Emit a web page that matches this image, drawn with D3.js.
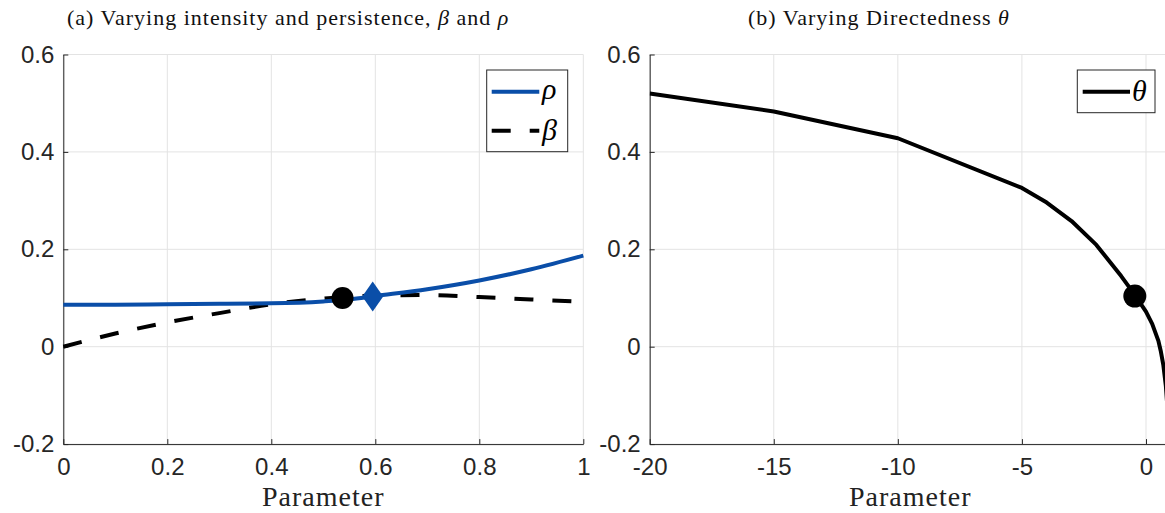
<!DOCTYPE html>
<html>
<head>
<meta charset="utf-8">
<script src="https://cdn.jsdelivr.net/npm/d3@7"></script>
<style>
  body { margin: 0; background: #fff; }
  .tick text { font-family: "Liberation Sans", Arial, sans-serif; font-size: 24px; fill: #262626; }
  .domain { stroke: #262626; }
  .tick line { stroke: #262626; }
</style>
</head>
<body>
<div id="chart"></div>
<script>
// panel (a): rho and beta curves
const rhoX = [0, 0.1, 0.2, 0.3, 0.4, 0.5, 0.55, 0.6, 0.7, 0.8, 0.9, 1.0];
const rhoY = [0.086, 0.086, 0.087, 0.088, 0.089, 0.093, 0.097, 0.104, 0.118, 0.136, 0.159, 0.187];
const betaX = [0, 0.05, 0.1, 0.2, 0.3, 0.4, 0.5, 0.55, 0.6, 0.7, 0.8, 0.9, 1.0];
const betaY = [0, 0.014, 0.027, 0.05, 0.069, 0.087, 0.099, 0.103, 0.105, 0.106, 0.102, 0.097, 0.092];
const markA = { circle: [0.537, 0.1], diamond: [0.595, 0.103] };

// panel (b): theta curve
const thetaX = [-20, -15, -10, -5, -4, -3, -2, -1, -0.5, 0, 0.25, 0.5, 0.6, 0.7, 0.8, 0.9, 1.0];
const thetaY = [0.52, 0.483, 0.428, 0.326, 0.296, 0.258, 0.209, 0.145, 0.11, 0.072, 0.047, 0.012, -0.01, -0.038, -0.08, -0.15, -0.25];
const markB = [-0.45, 0.104];

const yTicks = [-0.2, 0, 0.2, 0.4, 0.6];
const xTicksA = [0, 0.2, 0.4, 0.6, 0.8, 1];
const xTicksB = [-20, -15, -10, -5, 0];

const W = 1165, H = 513;
const plotTop = 54.5, plotBottom = 444.1;
const blue = "#0a4ea8";

const svg = d3.select("#chart").append("svg")
  .attr("width", W).attr("height", H);

const yScale = d3.scaleLinear().domain([-0.2, 0.6]).range([plotBottom, plotTop]);

function panel(id, x0, x1, domain, xTicks, title, titleX) {
  const xScale = d3.scaleLinear().domain(domain).range([x0, x1]);
  const g = svg.append("g");

  // grid
  g.selectAll(".vgrid").data(xTicks).enter().append("line")
    .attr("x1", d => xScale(d)).attr("x2", d => xScale(d))
    .attr("y1", plotTop).attr("y2", plotBottom)
    .attr("stroke", "#e3e3e3").attr("stroke-width", 1);
  g.selectAll(".hgrid").data(yTicks).enter().append("line")
    .attr("x1", x0).attr("x2", x1)
    .attr("y1", d => yScale(d)).attr("y2", d => yScale(d))
    .attr("stroke", "#e3e3e3").attr("stroke-width", 1);

  const xAxis = d3.axisBottom(xScale).tickValues(xTicks)
    .tickSize(-5).tickSizeOuter(0).tickPadding(14)
    .tickFormat(d => String(d));
  const yAxis = d3.axisLeft(yScale).tickValues(yTicks)
    .tickSize(-5).tickSizeOuter(0).tickPadding(9)
    .tickFormat(d => String(d));

  g.append("g").attr("transform", `translate(0,${plotBottom})`).call(xAxis);
  g.append("g").attr("transform", `translate(${x0},0)`).call(yAxis);

  g.append("text")
    .attr("x", titleX).attr("y", 25)
    .attr("font-family", "Liberation Serif, serif").attr("font-size", 22)
    .attr("letter-spacing", 1)
    .attr("fill", "#111")
    .html(title);

  g.append("text")
    .attr("x", (x0 + x1) / 2).attr("y", 506)
    .attr("text-anchor", "middle")
    .attr("font-family", "Liberation Serif, serif").attr("font-size", 28)
    .attr("letter-spacing", 1)
    .attr("fill", "#222")
    .text("Parameter");

  const clipId = "clip" + id;
  svg.append("clipPath").attr("id", clipId).append("rect")
    .attr("x", x0).attr("y", plotTop - 3).attr("width", x1 - x0).attr("height", plotBottom - plotTop + 3);

  return { g, xScale, clipId };
}

// ---------- panel (a)
const a = panel("a", 63.3, 583.3, [0, 1], xTicksA,
  '(a) Varying intensity and persistence, <tspan font-style="italic">β</tspan> and <tspan font-style="italic">ρ</tspan>', 67);

const lineA = d3.line().x(d => a.xScale(d[0])).y(d => yScale(d[1])).curve(d3.curveMonotoneX);

a.g.append("path")
  .datum(d3.zip(betaX, betaY))
  .attr("d", lineA)
  .attr("fill", "none").attr("stroke", "#000").attr("stroke-width", 4)
  .attr("stroke-dasharray", "19,19");

a.g.append("path")
  .datum(d3.zip(rhoX, rhoY))
  .attr("d", lineA)
  .attr("fill", "none").attr("stroke", blue).attr("stroke-width", 4);

a.g.append("circle")
  .attr("cx", a.xScale(markA.circle[0])).attr("cy", yScale(markA.circle[1]))
  .attr("r", 11).attr("fill", "#000");

a.g.append("path")
  .attr("transform", `translate(${a.xScale(markA.diamond[0])},${yScale(markA.diamond[1])})`)
  .attr("d", "M0,-15L10.5,0L0,15L-10.5,0Z")
  .attr("fill", blue);

// legend (a)
const legA = a.g.append("g");
legA.append("rect").attr("x", 486.7).attr("y", 70).attr("width", 81).attr("height", 81.7)
  .attr("fill", "#fff").attr("stroke", "#262626").attr("stroke-width", 1);
legA.append("line").attr("x1", 491.7).attr("x2", 539.3).attr("y1", 91.7).attr("y2", 91.7)
  .attr("stroke", blue).attr("stroke-width", 4);
legA.append("line").attr("x1", 491.7).attr("x2", 539.3).attr("y1", 130.7).attr("y2", 130.7)
  .attr("stroke", "#000").attr("stroke-width", 4).attr("stroke-dasharray", "19,19");
legA.append("text").attr("x", 542).attr("y", 99).text("ρ")
  .attr("font-family", "Liberation Serif, serif").attr("font-style", "italic").attr("font-size", 30);
legA.append("text").attr("x", 542).attr("y", 140).text("β")
  .attr("font-family", "Liberation Serif, serif").attr("font-style", "italic").attr("font-size", 30);

// ---------- panel (b)
const b = panel("b", 649.7, 1170.8, [-20, 1], xTicksB,
  '(b) Varying Directedness <tspan font-style="italic">θ</tspan>', 748);

const lineB = d3.line().x(d => b.xScale(d[0])).y(d => yScale(d[1]));

b.g.append("path")
  .datum(d3.zip(thetaX, thetaY))
  .attr("d", lineB)
  .attr("clip-path", `url(#${b.clipId})`)
  .attr("fill", "none").attr("stroke", "#000").attr("stroke-width", 4)
  .attr("stroke-linejoin", "round");

b.g.append("circle")
  .attr("cx", b.xScale(markB[0])).attr("cy", yScale(markB[1]))
  .attr("r", 11.5).attr("fill", "#000");

const legB = b.g.append("g");
legB.append("rect").attr("x", 1077.3).attr("y", 70).attr("width", 77.7).attr("height", 42.7)
  .attr("fill", "#fff").attr("stroke", "#262626").attr("stroke-width", 1);
legB.append("line").attr("x1", 1082.7).attr("x2", 1130).attr("y1", 91.7).attr("y2", 91.7)
  .attr("stroke", "#000").attr("stroke-width", 4);
legB.append("text").attr("x", 1132).attr("y", 101).text("θ")
  .attr("font-family", "Liberation Serif, serif").attr("font-style", "italic").attr("font-size", 30);
</script>
</body>
</html>
